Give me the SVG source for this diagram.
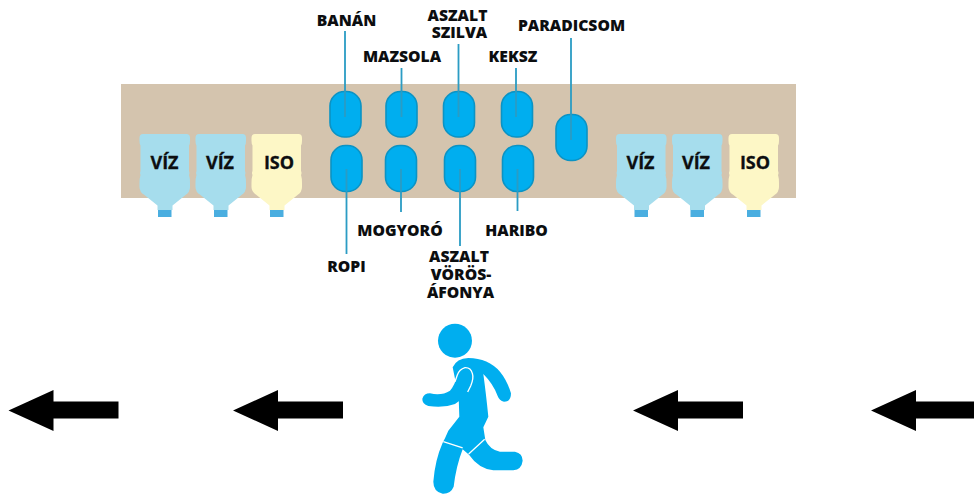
<svg xmlns="http://www.w3.org/2000/svg" width="974" height="494" viewBox="0 0 974 494">
<style>
text{font-family:"Open Sans","Noto Sans","Liberation Sans",sans-serif;font-weight:800;fill:#0c0e10;text-anchor:middle}
.l{font-size:15.700px}
.b{font-size:18px;font-weight:700;stroke:#0c0e10;stroke-width:.3}
.cap{fill:#00aeef;stroke:#0b93c4;stroke-width:1.600}
.ln{stroke:#2b9cc4;stroke-width:1.800;fill:none}
.cork{fill:#4aaee0}
.w{fill:#a6dded}
.y{fill:#fdf7c6}
</style>
<defs>
<path id="arrow" d="M0 0L45 -20.500V-9H110V8H45V20.500Z" fill="#000"/>
<path id="bottle" d="M3.500 0H47Q50.500 0 50.500 4V7Q50.500 10 49.500 11.500V37Q50.500 39 49.500 41Q50.500 44 50.500 49V53Q50.500 58 46 61L33 71.500V76H18V71.500L5 61Q0 58 0 53V49Q0 44 1 41Q0 39 1 37V11.500Q0 10 0 7V4Q0 0 3.500 0Z"/>
<rect id="corkr" x="18.500" y="76" width="13.500" height="7" class="cork"/>
</defs>
<rect id="shelf" x="121" y="84" width="675" height="114" fill="#d4c4ae"/>
<g id="water1"><use href="#bottle" x="139.500" y="134" class="w"/><use href="#corkr" x="139.500" y="134"/><text class="b" x="164.500" y="169">VÍZ</text></g>
<g id="water2"><use href="#bottle" x="195.500" y="134" class="w"/><use href="#corkr" x="195.500" y="134"/><text class="b" x="220" y="169">VÍZ</text></g>
<g id="iso1"><use href="#bottle" x="251.500" y="134" class="y"/><use href="#corkr" x="251.500" y="134"/><text class="b" x="279" y="169">ISO</text></g>
<g id="water3"><use href="#bottle" x="616" y="134" class="w"/><use href="#corkr" x="616" y="134"/><text class="b" x="640.500" y="169">VÍZ</text></g>
<g id="water4"><use href="#bottle" x="672" y="134" class="w"/><use href="#corkr" x="672" y="134"/><text class="b" x="696" y="169">VÍZ</text></g>
<g id="iso2"><use href="#bottle" x="728.500" y="134" class="y"/><use href="#corkr" x="728.500" y="134"/><text class="b" x="755" y="169">ISO</text></g>
<g id="banan"><rect class="cap" x="330" y="91.500" width="31" height="45.500" rx="14.500"/><text class="l" x="346.500" y="26">BANÁN</text></g>
<g id="mazsola"><rect class="cap" x="386" y="91.500" width="31" height="45.500" rx="14.500"/><text class="l" x="402" y="62">MAZSOLA</text></g>
<g id="szilva"><rect class="cap" x="443.500" y="91.500" width="31" height="45.500" rx="14.500"/><text class="l"><tspan x="457.500" y="21">ASZALT</tspan><tspan x="459.500" y="38">SZILVA</tspan></text></g>
<g id="keksz"><rect class="cap" x="501.500" y="91.500" width="31" height="45.500" rx="14.500"/><text class="l" x="513" y="62">KEKSZ</text></g>
<g id="paradicsom"><rect class="cap" x="556" y="114.500" width="31" height="46" rx="14.500"/><text class="l" x="571.500" y="31">PARADICSOM</text></g>
<g id="ropi"><rect class="cap" x="331" y="145.500" width="31" height="46" rx="14.500"/><text class="l" x="346.500" y="271.500">ROPI</text></g>
<g id="mogyoro"><rect class="cap" x="385.500" y="145.500" width="31" height="46" rx="14.500"/><text class="l" x="400" y="236">MOGYORÓ</text></g>
<g id="vorosafonya"><rect class="cap" x="444.500" y="145.500" width="31" height="46" rx="14.500"/><text class="l"><tspan x="459" y="262">ASZALT</tspan><tspan x="461" y="280">VÖRÖS-</tspan><tspan x="460.500" y="298">ÁFONYA</tspan></text></g>
<g id="haribo"><rect class="cap" x="502.500" y="145.500" width="31" height="46" rx="14.500"/><text class="l" x="516.500" y="236">HARIBO</text></g>
<g id="connectors">
<path class="ln" d="M345 31V117M401.500 68V117M458.500 44V117M516 68V117M571 38V140M346.500 169V254M401 169V212M460 169V246M517.500 169V211"/>
</g>
<g id="runner" transform="translate(400 310) scale(.3333)" fill="#00aeef">
<circle cx="165" cy="92" r="51"/>
<path d="M158 172Q170 145 205 144Q265 145 300 185Q322 212 333 250Q333 275 312 275Q298 272 293 258Q280 222 250 192Q258 250 265 320L250 352L256 390Q270 420 300 425H345Q368 430 368 452Q365 478 340 481H280Q235 475 207 434L188 418Q168 470 161 530Q152 552 128 551Q100 545 100 515Q105 450 128 398L135 385L145 362L178 320L176 260Z"/>
<path d="M175 185Q195 165 212 178Q224 195 215 220Q200 262 165 282Q130 295 85 288Q66 282 67 266Q72 250 90 250Q125 258 150 242Q165 225 172 195Z"/>
<path d="M165 215L172 195Q178 178 195 173Q212 172 217 190Q222 205 212 228L203 246M130 395L188 414M206 432L254 388" fill="none" stroke="#fff" stroke-width="4"/>
</g>
<g id="arrows">
<use href="#arrow" x="8.500" y="410.500"/>
<use href="#arrow" x="233" y="410.500"/>
<use href="#arrow" x="633" y="410.500"/>
<use href="#arrow" x="871" y="410.500"/>
</g>
</svg>
